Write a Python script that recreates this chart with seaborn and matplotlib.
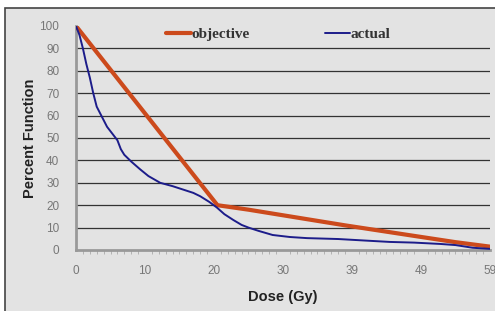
import numpy as np
import pandas as pd
import seaborn as sns
import matplotlib.pyplot as plt
from matplotlib.patches import Rectangle
from matplotlib.ticker import MultipleLocator

# =========================================================
# DATA
# =========================================================

objective_dose = [0, 20.5, 25, 30, 39, 49, 55, 60]
objective_pct = [100, 20, 18, 15.5, 11, 6.3, 3.5, 1.5]

actual_dose = [0, 0.5, 1, 1.5, 2, 2.5, 3, 3.5, 4.5, 5.5, 6, 6.5, 7, 8,
               9.3, 10.5, 12.2, 14, 15.5, 17, 18, 19.3, 20.4, 21.5, 22.8,
               24, 25, 26.5, 28.5, 31, 33.5, 38, 42, 45.5, 49, 52.8, 55,
               57.5, 60]
actual_pct = [100, 96, 90, 83, 77, 70, 64, 61, 55, 51, 49, 45, 42.5, 39.5,
              36, 33, 30, 28.5, 27, 25.5, 24, 21.5, 19, 16, 13.4,
              11.2, 10, 8.5, 6.7, 5.8, 5.3, 4.9, 4.2, 3.6, 3.3, 2.7, 2.2,
              1.0, 0.5]

tick_pos = [0, 10, 20, 30, 40, 50, 60]
tick_labels = ["0", "10", "20", "30", "39", "49", "59"]

df = pd.concat([
    pd.DataFrame({"dose": objective_dose, "pct": objective_pct, "series": "objective"}),
    pd.DataFrame({"dose": actual_dose, "pct": actual_pct, "series": "actual"}),
])

# =========================================================
# FIGURE
# =========================================================

sns.set_style("white")
plt.rcParams["font.family"] = ["Liberation Sans", "DejaVu Sans"]

bg = "#e3e3e3"
fig = plt.figure(figsize=(4.95, 3.11), dpi=100)
fig.patch.set_facecolor("white")
fig.patches.append(Rectangle((5 / 495, -0.05), 1.1, 1 - 8 / 311 + 0.05,
                             transform=fig.transFigure, facecolor=bg,
                             edgecolor="#444444", linewidth=1.2, zorder=-5))

ax = fig.add_axes([76 / 495, 1 - 250 / 311, 414 / 495, 224 / 311])
ax.set_facecolor(bg)
ax.set_zorder(2)

for y in range(10, 100, 10):
    ax.axhline(y, color="#333333", linewidth=0.9, zorder=1)

sns.lineplot(
    data=df,
    x="dose",
    y="pct",
    hue="series",
    palette={"objective": "#cc4a1c", "actual": "#1c1c8a"},
    linewidth=1.4,
    ax=ax,
    zorder=3,
)
for line in ax.lines:
    if line.get_label() == "objective" or line.get_color() == "#cc4a1c":
        line.set_linewidth(3.0)

ax.set_xlim(0, 60)
ax.set_ylim(0, 100)
ax.set_xticks(tick_pos)
ax.set_xticklabels(tick_labels)
ax.xaxis.set_minor_locator(MultipleLocator(1))
ax.set_yticks(range(0, 101, 10))

ax.tick_params(axis="x", which="major", length=4, color="#999999",
               labelsize=8.5, labelcolor="#777777", pad=7)
ax.tick_params(axis="x", which="minor", length=3, color="#aaaaaa", bottom=True)
ax.tick_params(axis="y", length=8, color="#333333", width=0.9,
               labelsize=8.5, labelcolor="#777777", pad=4)

for side in ["top", "right"]:
    ax.spines[side].set_visible(False)
ax.spines["left"].set_color("#999999")
ax.spines["left"].set_linewidth(2)
ax.spines["bottom"].set_color("#999999")
ax.spines["bottom"].set_linewidth(2)

ax.set_xlabel("Dose (Gy)", fontsize=10.5, fontweight="bold", color="#222222", labelpad=9)
ax.set_ylabel("Percent Function", fontsize=10.5, fontweight="bold", color="#222222", labelpad=2)

handles, labels = ax.get_legend_handles_labels()
for h, l in zip(handles, labels):
    h.set_linewidth(3.0 if l == "objective" else 1.4)
leg = ax.legend(
    handles, labels,
    loc="upper center",
    bbox_to_anchor=(0.488, 1.055),
    ncol=2,
    frameon=False,
    handlelength=1.65,
    handletextpad=0.05,
    columnspacing=4.9,
    prop={"family": "Liberation Serif", "weight": "bold", "size": 11},
)
for t in leg.get_texts():
    t.set_color("#333333")

fig.savefig("out.png", dpi=100, facecolor=fig.get_facecolor())
